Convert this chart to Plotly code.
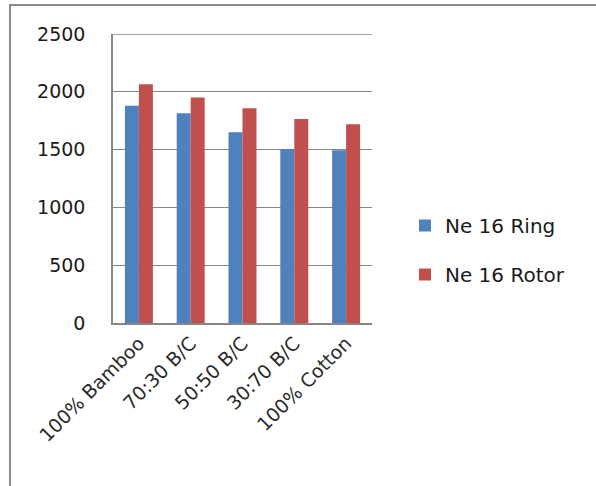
import plotly.graph_objects as go

categories = ["100% Bamboo", "70:30 B/C", "50:50 B/C", "30:70 B/C", "100% Cotton"]
ring = [1880, 1815, 1650, 1505, 1495]
rotor = [2065, 1950, 1857, 1765, 1720]
series_names = ["Ne 16 Ring", "Ne 16 Rotor"]
y_ticks = [0, 500, 1000, 1500, 2000, 2500]

W, H = 596, 486
L, R, T, B = 113, 224, 34, 163
pw, ph = W - L - R, H - T - B

def px(x):
    return (x - L) / pw

def py(y):
    return (H - B - y) / ph

font_family = "DejaVu Sans, sans-serif"

fig = go.Figure()
fig.add_trace(go.Bar(x=categories, y=ring, name=series_names[0], legendgroup="g1",
                     marker_color="#4F81BD", marker_line_width=0))
fig.add_trace(go.Bar(x=categories, y=rotor, name=series_names[1], legendgroup="g2",
                     marker_color="#C0504D", marker_line_width=0))

fig.update_layout(
    width=W, height=H,
    margin=dict(l=L, r=R, t=T, b=B, pad=0, autoexpand=False),
    paper_bgcolor="white", plot_bgcolor="white",
    barmode="group", bargap=0.46, bargroupgap=0,
    font=dict(family=font_family, size=19, color="#222222"),
    showlegend=True,
    legend=dict(x=px(405), y=py(250), xanchor="left", yanchor="middle",
                font=dict(size=20, color="#1a1a1a"), tracegroupgap=20,
                itemwidth=30, bgcolor="rgba(0,0,0,0)"),
    xaxis=dict(showline=True, linecolor="#868686", linewidth=1.5, tickangle=-45,
               ticks="", tickfont=dict(size=19, color="#2a2a2a"), showgrid=False,
               automargin=False),
    yaxis=dict(range=[0, 2500], tickvals=y_ticks, showgrid=True, gridcolor="#868686",
               gridwidth=1.3, showline=True, linecolor="#868686", linewidth=1.5,
               ticks="outside", ticklen=0, tickcolor="white", ticklabelstandoff=22,
               tickfont=dict(size=19, color="#1a1a1a"), zeroline=False, automargin=False),
    shapes=[
        dict(type="rect", xref="paper", yref="paper",
             x0=px(10), y0=py(5), x1=px(640), y1=py(540),
             line=dict(color="#8a8a8a", width=2), fillcolor="rgba(0,0,0,0)", layer="below"),
        dict(type="line", xref="paper", yref="y", x0=0, x1=1, y0=y_ticks[-1], y1=y_ticks[-1],
             line=dict(color="#868686", width=1.3), layer="below"),
    ],
)

fig.write_html("out.html", config={"displayModeBar": False},
               post_script="document.body.style.margin='0px';")
